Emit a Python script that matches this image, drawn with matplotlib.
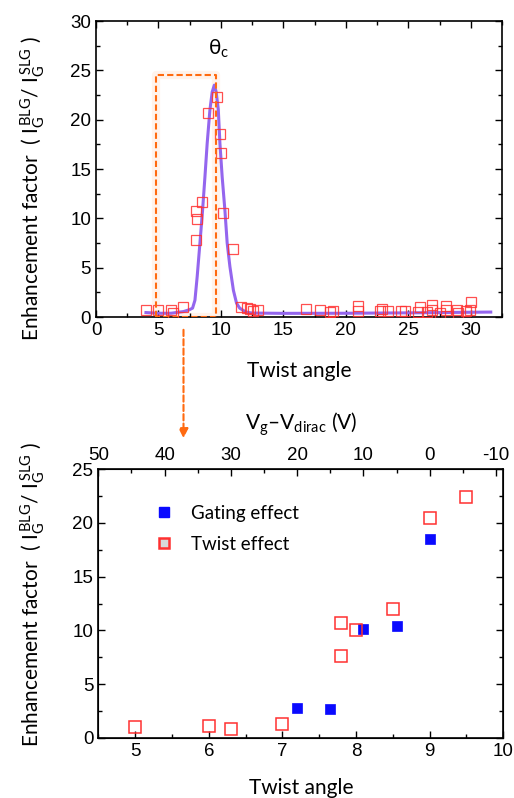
import numpy as np
import matplotlib
matplotlib.use('Agg')
import matplotlib.pyplot as plt
from matplotlib.lines import Line2D
from matplotlib.ticker import MultipleLocator

# ================================
# Data
# ================================
# top panel: twist effect vs twist angle
tw_x = [4.0, 5.0, 6.0, 6.2, 7.0, 8.0, 8.1, 8.0, 8.5, 8.99, 9.65, 9.92, 9.97,
        10.2, 11.0, 11.57, 12.05, 12.3, 12.6, 13.0, 16.8, 17.9, 18.7, 19.0,
        21.0, 21.0, 22.7, 22.9, 23.4, 24.45, 24.7, 25.8, 25.9, 26.5, 26.9,
        26.9, 27.5, 28.0, 28.05, 28.9, 29.0, 29.65, 29.9, 30.0]
tw_y = [0.7, 0.7, 0.7, 0.45, 1.05, 7.8, 9.9, 10.7, 11.7, 20.7, 22.3, 18.5, 16.6,
        10.5, 6.9, 1.0, 0.9, 0.8, 0.6, 0.7, 0.85, 0.7, 0.5, 0.65,
        1.1, 0.6, 0.6, 0.85, 0.6, 0.65, 0.6, 0.5, 1.0, 0.5, 1.2,
        0.7, 0.45, 1.1, 0.75, 0.75, 0.45, 0.65, 0.75, 1.5]

# fitted curve
fit_x = [4.0, 5.0, 6.0, 7.0, 7.5, 7.73, 7.92, 8.1, 8.32, 8.53, 8.72, 8.9, 9.12,
         9.3, 9.47, 9.62, 9.79, 9.92, 10.1, 10.32, 10.5, 10.72, 11.0, 11.25,
         11.5, 12.0, 12.5, 15.0, 20.0, 25.0, 31.6]
fit_y = [0.45, 0.38, 0.38, 0.55, 0.75, 0.9, 1.7, 4.1, 7.5, 10.8, 14.2, 17.6, 21.0,
         22.8, 23.5, 22.8, 21.0, 17.6, 14.2, 10.8, 7.5, 5.1, 2.7, 1.4,
         0.9, 0.5, 0.4, 0.37, 0.38, 0.42, 0.5]

# zoom box around the critical angle
box_x = [4.77, 9.57]
box_top = 24.5

# bottom panel
gate_x = [7.2, 7.65, 8.1, 8.55, 9.0]
gate_y = [2.8, 2.7, 10.1, 10.4, 18.5]
twist_x = [5.0, 6.0, 6.3, 7.0, 7.8, 7.8, 8.0, 8.5, 9.0, 9.5]
twist_y = [1.0, 1.1, 0.8, 1.25, 10.7, 7.6, 10.0, 12.0, 20.45, 22.4]

# top axis of bottom panel (gate voltage)
volt_lim = (50, -11.1)

# ================================
# Style
# ================================
W, H = 514, 798
TXT = 'Lato'
plt.rcParams['font.family'] = ['Liberation Sans', 'DejaVu Sans']
plt.rcParams['axes.unicode_minus'] = False
plt.rcParams['mathtext.fontset'] = 'custom'
plt.rcParams['mathtext.rm'] = TXT
plt.rcParams['mathtext.it'] = TXT
plt.rcParams['mathtext.bf'] = TXT
RED = '#ff3030'
BLUE = '#0a0aff'
PURPLE = '#9466ee'
ORANGE = '#ff6a10'

fig = plt.figure(figsize=(W / 100, H / 100), dpi=100)
ax1 = fig.add_axes([96 / W, 1 - 317 / H, 406 / W, 296 / H])
ax2 = fig.add_axes([98.3 / W, 1 - 737.7 / H, 405 / W, 268.4 / H])


def style_ticks(ax, top=True):
    ax.tick_params(which='both', direction='in', right=True, top=top,
                   labelsize=13.5, width=1.0)
    ax.tick_params(which='major', length=5)
    ax.tick_params(which='minor', length=3)
    for sp in ax.spines.values():
        sp.set_linewidth(1.2)


# ---- top panel ----
ax1.plot(fit_x, fit_y, color=PURPLE, lw=2.2, zorder=2)
ax1.plot(tw_x, tw_y, ls='none', marker='s', ms=7.5, mfc='none', mec=RED,
         mew=0.9, alpha=0.85, zorder=3)
bx = [box_x[0], box_x[0], box_x[1], box_x[1], box_x[0]]
by = [0, box_top, box_top, 0, 0]
ax1.plot(bx, by, color=ORANGE, lw=6, alpha=0.08, zorder=1)
ax1.plot(bx, by, color=ORANGE, lw=1.5, ls=(0, (3, 1.5)), zorder=4)
ax1.text(9.85, 27.2, r'$\mathrm{\theta_c}$', fontsize=15, ha='center', va='center')
ax1.set_xlim(0, 32.5)
ax1.set_ylim(0, 30)
ax1.xaxis.set_major_locator(MultipleLocator(5))
ax1.xaxis.set_minor_locator(MultipleLocator(2.5))
ax1.yaxis.set_major_locator(MultipleLocator(5))
ax1.yaxis.set_minor_locator(MultipleLocator(2.5))
style_ticks(ax1)
ax1.set_xlabel('Twist angle', fontsize=15, family=TXT, labelpad=16)

# ---- bottom panel ----
ax2.plot(gate_x, gate_y, ls='none', marker='s', ms=6.5, mfc=BLUE, mec=BLUE,
         mew=0.5, zorder=3)
ax2.plot(twist_x, twist_y, ls='none', marker='s', ms=8, mfc='none', mec=RED,
         mew=1.1, zorder=3)
ax2.set_xlim(4.5, 10)
ax2.set_ylim(0, 25)
ax2.xaxis.set_major_locator(MultipleLocator(1))
ax2.xaxis.set_minor_locator(MultipleLocator(0.5))
ax2.yaxis.set_major_locator(MultipleLocator(5))
ax2.yaxis.set_minor_locator(MultipleLocator(2.5))
style_ticks(ax2, top=False)
ax2.set_xlabel('Twist angle', fontsize=15, family=TXT, labelpad=13)

axv = ax2.twiny()
axv.set_xlim(*volt_lim)
axv.xaxis.set_major_locator(MultipleLocator(10))
axv.xaxis.set_minor_locator(MultipleLocator(5))
axv.tick_params(which='both', direction='in', labelsize=13.5, width=1.0)
axv.tick_params(which='major', length=5)
axv.tick_params(which='minor', length=3)
axv.set_xlabel(r'$\mathrm{V_g}$–$\mathrm{V_{dirac}}$ (V)', fontsize=15,
               family=TXT, labelpad=13)

handles = [
    Line2D([], [], ls='none', marker='s', ms=7, mfc=BLUE, mec=BLUE),
    Line2D([], [], ls='none', marker='s', ms=7, mfc='#d8d8d8', mec=RED, mew=1.8),
]
ax2.legend(handles, ['Gating effect', 'Twist effect'], frameon=False,
           loc='upper left', bbox_to_anchor=(0.075, 0.93), handletextpad=0.45,
           labelspacing=0.75, prop={'family': TXT, 'size': 13.5})

# y labels
ylab = (r'Enhancement factor  ( $\mathrm{I_G^{\,BLG}}$/ '
        r'$\mathrm{I_G^{\,SLG}}$ )')
fig.text(33 / W, 1 - 189 / H, ylab, rotation=90, fontsize=15, family=TXT,
         ha='center', va='center')
fig.text(33 / W, 1 - 595 / H, ylab, rotation=90, fontsize=15, family=TXT,
         ha='center', va='center')

# dashed arrow linking the two panels
fig.add_artist(matplotlib.patches.FancyArrowPatch(
    (183.5 / W, 1 - 327 / H), (183.5 / W, 1 - 441 / H),
    transform=fig.transFigure, arrowstyle='-|>', mutation_scale=14,
    color=ORANGE, lw=1.5, ls=(0, (3, 1.5))))

fig.savefig('out.png', dpi=100)
